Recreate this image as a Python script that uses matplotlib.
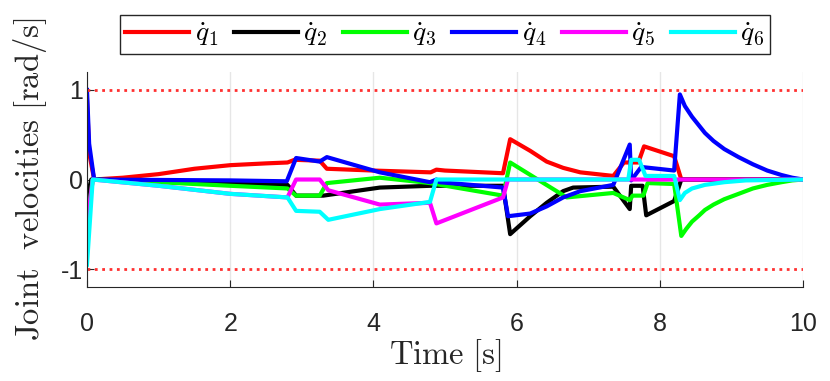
import matplotlib
matplotlib.use('Agg')
import matplotlib.pyplot as plt

# joint velocities (time [s], value [rad/s])
q1_t = [0, 0.03, 0.1, 0.5, 1.0, 1.5, 2.0, 2.5, 2.8, 2.9, 3.25, 3.35, 4.0, 4.8, 4.88, 5.0, 5.81, 5.91, 6.19, 6.42, 6.65, 6.89, 7.35, 7.5, 7.7, 7.78, 8.2, 8.3, 10]
q1_v = [0.9, 0.3, 0.0, 0.02, 0.06, 0.12, 0.16, 0.18, 0.19, 0.22, 0.21, 0.12, 0.1, 0.08, 0.11, 0.1, 0.07, 0.45, 0.32, 0.2, 0.13, 0.08, 0.04, 0.19, 0.19, 0.37, 0.26, 0.0, 0.0]

q2_t = [0, 0.06, 1.0, 2.0, 2.8, 2.92, 3.3, 4.09, 4.8, 5.81, 5.91, 6.19, 6.42, 6.65, 6.79, 7.35, 7.58, 7.6, 7.76, 7.81, 8.2, 8.3, 10]
q2_v = [-0.2, 0.0, -0.02, -0.04, -0.06, -0.18, -0.18, -0.09, -0.07, -0.07, -0.61, -0.41, -0.26, -0.13, -0.09, -0.08, -0.33, -0.07, -0.07, -0.4, -0.24, 0.0, 0.0]

q3_t = [0, 0.08, 1.0, 2.0, 2.8, 2.92, 3.25, 3.35, 4.09, 4.79, 5.81, 5.91, 6.7, 7.35, 7.58, 7.62, 7.77, 7.83, 8.2, 8.3, 8.37, 8.45, 8.55, 8.63, 8.75, 8.9, 9.1, 9.3, 9.5, 9.7, 9.85, 10]
q3_v = [-0.5, 0.0, -0.03, -0.07, -0.1, -0.18, -0.18, -0.04, 0.02, -0.04, -0.18, 0.19, -0.2, -0.15, -0.23, -0.18, -0.18, -0.04, -0.05, -0.63, -0.55, -0.47, -0.4, -0.34, -0.28, -0.22, -0.16, -0.1, -0.06, -0.03, -0.01, 0.0]

q4_t = [0, 0.03, 0.1, 1.0, 2.0, 2.79, 2.92, 3.25, 3.35, 4.09, 4.79, 4.88, 4.92, 5.81, 5.88, 6.19, 6.42, 6.65, 6.89, 7.35, 7.58, 7.6, 7.74, 8.2, 8.28, 8.35, 8.45, 8.55, 8.63, 8.75, 8.9, 9.1, 9.3, 9.5, 9.7, 9.85, 10]
q4_v = [1.0, 0.4, 0.0, -0.005, -0.01, -0.02, 0.24, 0.2, 0.25, 0.08, -0.03, 0.0, -0.03, -0.09, -0.41, -0.38, -0.3, -0.2, -0.13, -0.06, 0.39, -0.01, 0.14, 0.1, 0.95, 0.82, 0.7, 0.6, 0.52, 0.43, 0.34, 0.25, 0.17, 0.1, 0.05, 0.02, 0.0]

q5_t = [0, 0.08, 1.0, 2.0, 2.8, 2.92, 3.25, 3.37, 4.09, 4.79, 4.88, 5.81, 5.88, 10]
q5_v = [-0.5, 0.0, -0.07, -0.16, -0.2, 0.0, 0.0, -0.12, -0.28, -0.26, -0.49, -0.2, 0.0, 0.0]

q6_t = [0, 0.08, 1.0, 2.0, 2.8, 2.92, 3.25, 3.37, 4.09, 4.79, 4.88, 7.56, 7.6, 7.71, 7.8, 8.2, 8.28, 8.35, 8.45, 8.63, 8.9, 9.2, 10]
q6_v = [-0.95, 0.0, -0.07, -0.16, -0.2, -0.35, -0.36, -0.45, -0.33, -0.25, 0.0, 0.0, 0.22, 0.22, 0.04, 0.04, -0.23, -0.15, -0.1, -0.06, -0.03, -0.01, 0.0]

labels = [r'$\dot{q}_1$', r'$\dot{q}_2$', r'$\dot{q}_3$', r'$\dot{q}_4$', r'$\dot{q}_5$', r'$\dot{q}_6$']
colors = ['#ff0000', '#000000', '#00ff00', '#0000ff', '#ff00ff', '#00ffff']
limit = 1.0

plt.rcParams['mathtext.fontset'] = 'cm'
plt.rcParams['axes.unicode_minus'] = False
plt.rcParams['font.family'] = ['Liberation Sans', 'DejaVu Sans']

fig = plt.figure(figsize=(8.3, 3.81), dpi=100)
ax = fig.add_axes([0.1048, 0.2467, 0.8627, 0.5643])

series = [(q1_t, q1_v), (q2_t, q2_v), (q3_t, q3_v), (q4_t, q4_v), (q5_t, q5_v), (q6_t, q6_v)]
for (t, v), c, lab in zip(series, colors, labels):
    ax.plot(t, v, color=c, lw=3, label=lab)

ax.axhline(limit, color='#ff3030', ls=':', lw=2)
ax.axhline(-limit, color='#ff3030', ls=':', lw=2)

ax.set_xlim(0, 10)
ax.set_ylim(-1.2, 1.2)
ax.set_xticks([0, 2, 4, 6, 8, 10])
ax.set_yticks([-1, 0, 1])
ax.tick_params(direction='in', labelsize=18, length=5, color='#262626', labelcolor='#262626')
ax.tick_params(axis='x', pad=18)
ax.tick_params(axis='y', pad=3)
ax.grid(axis='x', color='#e6e6e6', lw=1)
ax.spines['top'].set_visible(False)
ax.spines['right'].set_visible(False)
for s in ['left', 'bottom']:
    ax.spines[s].set_color('#262626')

ax.set_xlabel(r'$\mathrm{Time\ [s]}$', fontsize=23.5, labelpad=1, color='#262626')
ax.set_ylabel(r'$\mathrm{Joint\ \ velocities\ [rad/s]}$', fontsize=23.5, labelpad=8, color='#262626')

leg = ax.legend(loc='center', bbox_to_anchor=(0.5, 1.174), ncol=6, fontsize=20,
                handlelength=2.3, handletextpad=0.2, columnspacing=0.55,
                fancybox=False, framealpha=1, borderpad=0.2, borderaxespad=0)
leg.get_frame().set_edgecolor('#262626')
leg.get_frame().set_linewidth(1)

fig.savefig('out.png', dpi=100)
